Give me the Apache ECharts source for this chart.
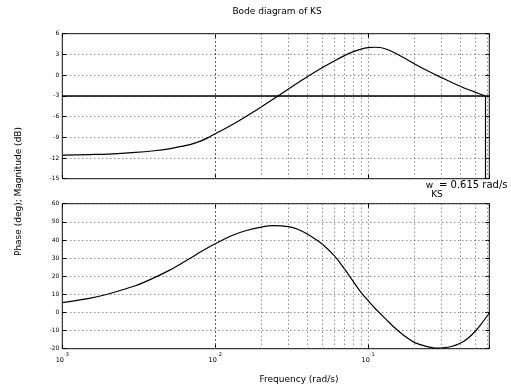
<!DOCTYPE html>
<html><head><meta charset="utf-8">
<script src="https://cdn.jsdelivr.net/npm/echarts@6/dist/echarts.min.js"></script>
<style>html,body{margin:0;padding:0;background:#fff}#c{width:511px;height:389px}</style>
</head><body><div id="c"></div>
<script>
// ---- data ----
const magFreq = [0.001,0.0015,0.002,0.003,0.004,0.005,0.006,0.007,0.008,0.009,0.01,0.013,0.016,0.02,0.025,0.03,0.035,0.04,0.05,0.06,0.07,0.08,0.09,0.1,0.11,0.12,0.132,0.15,0.17,0.2,0.25,0.3,0.35,0.4,0.45,0.5,0.58];
const magDb   = [-11.58,-11.5,-11.43,-11.2,-10.95,-10.67,-10.33,-9.99,-9.55,-9.05,-8.5,-7.14,-5.95,-4.61,-3.2,-2.03,-1.06,-0.23,1.07,2.06,2.83,3.4,3.77,3.98,4.04,4.0,3.75,3.2,2.55,1.65,0.52,-0.33,-1.04,-1.62,-2.09,-2.47,-2.98];
const phaseFreq = [0.001,0.0015,0.002,0.003,0.004,0.005,0.006,0.007,0.008,0.009,0.01,0.013,0.016,0.02,0.024,0.03,0.035,0.04,0.05,0.06,0.07,0.08,0.09,0.1,0.11,0.12,0.135,0.15,0.165,0.18,0.2,0.24,0.28,0.3,0.35,0.4,0.45,0.5,0.55,0.62];
const phaseDeg  = [5.4,7.8,10.2,14.7,19.2,23.2,27.0,30.3,33.3,35.8,37.9,42.6,45.2,47.1,47.9,47.4,45.8,43.3,37.8,31.3,24.0,17.0,11.0,6.5,2.6,-0.6,-4.9,-8.6,-11.6,-14.0,-16.5,-18.7,-19.7,-19.6,-18.8,-17.0,-14.2,-10.5,-6.3,-0.3];
const magTicks = [-15,-12,-9,-6,-3,0,3,6];
const phaseTicks = [-20,-10,0,10,20,30,40,50,60];
const xTickLabels = ['10^-3','10^-2','10^-1'];
const decades = [0.001,0.01,0.1];
const xMin = 0.001, xMax = 0.62;
const cutoffDb = -3;
const wKSpos = 0.58;           // where the -3 dB line meets the curve
const wKSlabel = '= 0.615 rad/s';

const FONT = '"DejaVu Sans", sans-serif';
const GRID = '#555';
const DOT = [1,3];

const minorGrid = [];
decades.forEach(d => { for (let k = 2; k <= 9; k++) { const v = d * k; if (v < xMax) minorGrid.push({xAxis: v}); } });

function xAxisDef(idx, showLabel, pos) {
  const bottom = pos === 'bottom';
  return {
    type: 'log', logBase: 10, gridIndex: idx, min: xMin, max: xMax, position: pos,
    axisLine: {show: false, onZero: false},
    axisTick: {show: true, inside: true, length: 4, lineStyle: {color: '#000'}},
    splitLine: {show: bottom, lineStyle: {color: GRID, type: DOT, width: 1}},
    axisLabel: {
      show: showLabel, margin: 4, color: '#000', fontFamily: FONT,
      formatter: function (v) {
        const e = Math.log10(v), r = Math.round(e);
        if (Math.abs(e - r) > 1e-6) return '';
        const i = decades.findIndex(d => Math.abs(Math.log10(d) - r) < 1e-6);
        if (i < 0) return '';
        const parts = xTickLabels[i].split('^');
        return '{b|' + parts[0] + '}{s|' + parts[1] + '}';
      },
      rich: {
        b: {fontSize: 6.5, fontFamily: FONT, color: '#000', verticalAlign: 'bottom', lineHeight: 11},
        s: {fontSize: 5, fontFamily: FONT, color: '#000', verticalAlign: 'top', lineHeight: 11}
      }
    }
  };
}
function yAxisDef(idx, ticks, pos) {
  const left = pos === 'left';
  return {
    type: 'value', gridIndex: idx, position: pos,
    min: ticks[0], max: ticks[ticks.length - 1], interval: ticks[1] - ticks[0],
    axisLine: {show: false, onZero: false},
    axisTick: {show: true, inside: true, length: 4, lineStyle: {color: '#000'}},
    splitLine: {show: left, lineStyle: {color: GRID, type: DOT, width: 1}},
    axisLabel: {show: left, margin: 3, fontSize: 6, color: '#000', fontFamily: FONT}
  };
}

const chart = echarts.init(document.getElementById('c'), null, {renderer: 'canvas'});
chart.setOption({
  animation: false,
  backgroundColor: '#fff',
  grid: [
    {left: 62.3, top: 33.7, width: 427, height: 145, show: true, borderColor: '#000', borderWidth: 1, containLabel: false},
    {left: 62.3, top: 203.7, width: 427, height: 145, show: true, borderColor: '#000', borderWidth: 1, containLabel: false}
  ],
  xAxis: [xAxisDef(0, false, 'bottom'), xAxisDef(1, true, 'bottom'), xAxisDef(0, false, 'top'), xAxisDef(1, false, 'top')],
  yAxis: [yAxisDef(0, magTicks, 'left'), yAxisDef(0, magTicks, 'right'), yAxisDef(1, phaseTicks, 'left'), yAxisDef(1, phaseTicks, 'right')],
  series: [
    {
      type: 'line', xAxisIndex: 0, yAxisIndex: 0, showSymbol: false, symbol: 'none', smooth: 0.3,
      lineStyle: {color: '#000', width: 1.2},
      data: magFreq.map((f, i) => [f, magDb[i]]),
      markLine: {
        silent: true, symbol: 'none', label: {show: false},
        data: [
          ...minorGrid.map(m => Object.assign({}, m, {lineStyle: {color: GRID, type: DOT, width: 1}})),
          {yAxis: cutoffDb, lineStyle: {color: '#000', type: 'solid', width: 1.6}},
          [{coord: [wKSpos, cutoffDb]}, {coord: [wKSpos, magTicks[0]]}]
        ],
        lineStyle: {color: '#000', type: 'solid', width: 1.2}
      }
    },
    {
      type: 'line', xAxisIndex: 1, yAxisIndex: 2, showSymbol: false, symbol: 'none', smooth: 0.3,
      lineStyle: {color: '#000', width: 1.2},
      data: phaseFreq.map((f, i) => [f, phaseDeg[i]]),
      markLine: {
        silent: true, symbol: 'none', label: {show: false},
        data: minorGrid.map(m => Object.assign({}, m, {lineStyle: {color: GRID, type: DOT, width: 1}}))
      }
    }
  ],
  graphic: [
    {type: 'text', x: 277, y: 11.7, style: {text: 'Bode diagram of KS', font: '9px ' + FONT, fill: '#000', textAlign: 'center', textVerticalAlign: 'middle'}},
    {type: 'text', x: 299, y: 379.5, style: {text: 'Frequency (rad/s)', font: '9px ' + FONT, fill: '#000', textAlign: 'center', textVerticalAlign: 'middle'}},
    {type: 'text', x: 19, y: 191.5, rotation: Math.PI / 2, style: {text: 'Phase (deg); Magnitude (dB)', font: '9px ' + FONT, fill: '#000', textAlign: 'center', textVerticalAlign: 'middle'}},
    {type: 'text', x: 429.5, y: 185.5, style: {text: 'w', font: '9px ' + FONT, fill: '#000', textAlign: 'center', textVerticalAlign: 'middle'}},
    {type: 'text', x: 437, y: 195, style: {text: 'KS', font: '9px ' + FONT, fill: '#000', textAlign: 'center', textVerticalAlign: 'middle'}},
    {type: 'text', x: 439, y: 185, style: {text: wKSlabel, font: '10px ' + FONT, fill: '#000', textAlign: 'left', textVerticalAlign: 'middle'}}
  ]
});
</script>
</body></html>
